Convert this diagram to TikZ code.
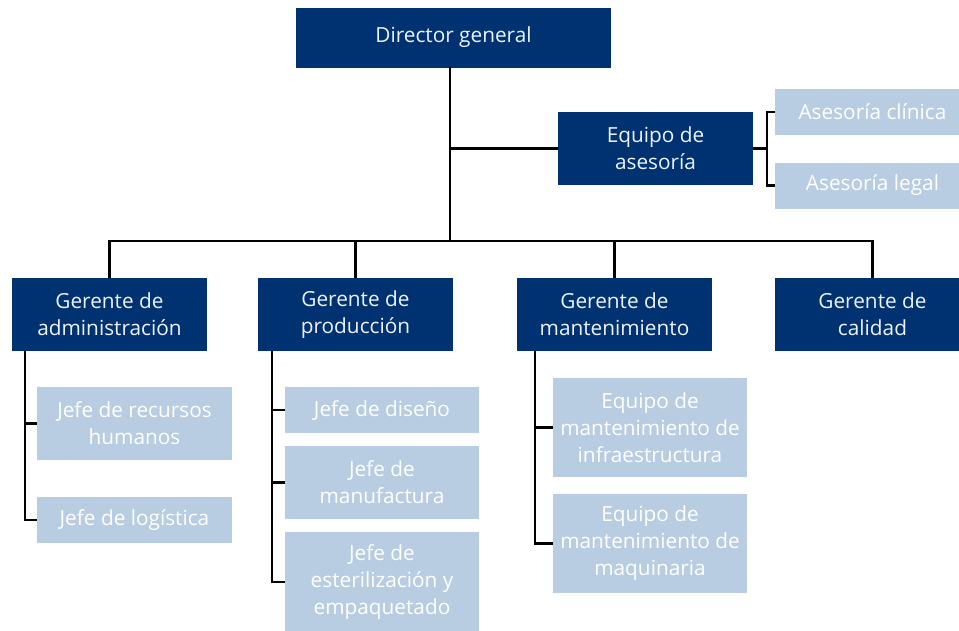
\documentclass[tikz,border=0pt]{standalone}
\usepackage{fontspec}
\setmainfont{Open Sans}
\definecolor{navy}{RGB}{0,50,114}
\definecolor{pale}{RGB}{184,204,226}
\definecolor{navytext}{RGB}{236,243,251}
\begin{document}
\begin{tikzpicture}[x=1pt,y=-1pt,
  dark/.style={rectangle, fill=navy, text=navytext, inner sep=0pt, align=center,
    font=\fontsize{20.8}{27}\selectfont, minimum width=195pt, minimum height=73pt},
  light/.style={rectangle, fill=pale, text=white, inner sep=0pt, align=center,
    font=\fontsize{20.8}{27}\selectfont, minimum width=195pt},
  conn/.style={line width=2.2pt, black}]
\useasboundingbox (0,0) rectangle (959,630);
\fill[white] (0,0) rectangle (959,630);
\clip (0,0) rectangle (959,630);

% top level
\node[dark, minimum width=315pt, minimum height=60pt] (dir) at (453.5,37.5) {Director general};
\node[dark] (eq) at (655.5,148.5) {Equipo de\\asesoría};
\node[light, minimum height=46pt] (ac) at (872.5,112) {Asesoría clínica};
\node[light, minimum height=46pt] (al) at (872.5,185.5) {Asesoría legal};

% managers
\node[dark] (ga) at (109.5,314.5) {Gerente de\\administración};
\node[dark] (gp) at (355.5,314.5) {Gerente de\\producción};
\node[dark] (gm) at (614.5,314.5) {Gerente de\\mantenimiento};
\node[dark] (gc) at (872.5,314.5) {Gerente de\\calidad};

% administration
\node[light, minimum height=73pt] (jrh) at (134.5,423.5) {Jefe de recursos\\humanos};
\node[light, minimum height=46pt] (jl) at (134.5,520) {Jefe de logística};

% production
\node[light, minimum width=194pt, minimum height=46pt] (jd) at (382,410) {Jefe de diseño};
\node[light, minimum width=194pt, minimum height=73pt] (jm) at (382,482.5) {Jefe de\\manufactura};
\node[light, minimum width=194pt, minimum height=100pt] (je) at (382,582) {Jefe de\\esterilización y\\empaquetado};

% maintenance
\node[light, minimum width=194pt, minimum height=99pt] (mi) at (650,427.5) {Equipo de\\mantenimiento de\\infraestructura};
\node[light, minimum width=194pt, minimum height=99pt] (mq) at (650,543.5) {Equipo de\\mantenimiento de\\maquinaria};

% connector coordinates
\coordinate (trunk) at (450,67);
\coordinate (bus) at (450,241);
\coordinate (br) at (767,148.5);
\coordinate (av) at (25,351);
\coordinate (pv) at (272,351);
\coordinate (mv) at (535,351);

% connectors
\draw[conn] (trunk) -- (bus);
\draw[conn] (eq.west) -- (eq.west -| trunk);
\draw[conn] (eq.east) -- (br);
\draw[conn] (ac.west) -| (br) |- (al.west);
\draw[conn] (ga.north) |- (gc.north |- bus) -- (gc.north);
\draw[conn] (gp.north) -- (gp.north |- bus);
\draw[conn] (gm.north) -- (gm.north |- bus);

\draw[conn] (av) |- (jl.west);
\draw[conn] (jrh.west) -- (jrh.west -| av);
\draw[conn] (pv) |- (je.west);
\draw[conn] (jd.west) -- (jd.west -| pv);
\draw[conn] (jm.west) -- (jm.west -| pv);
\draw[conn] (mv) |- (mq.west);
\draw[conn] (mi.west) -- (mi.west -| mv);
\end{tikzpicture}
\end{document}
